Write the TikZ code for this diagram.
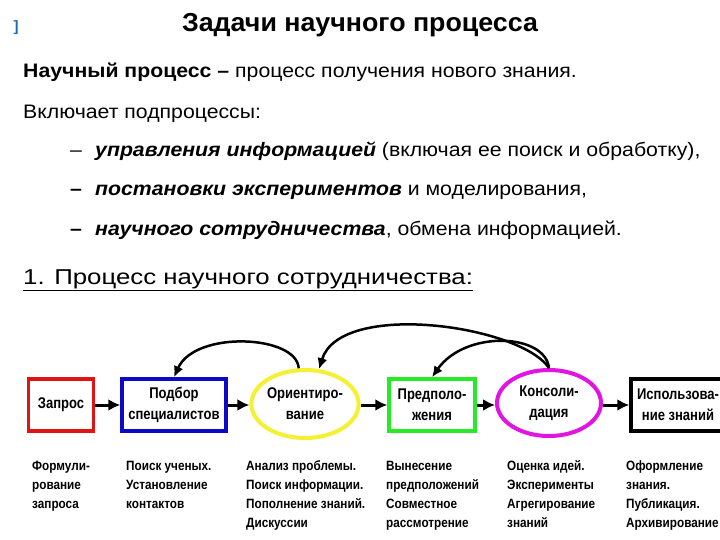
\documentclass[tikz,border=0pt]{standalone}
\usepackage{fontspec}
\setmainfont{Liberation Sans}
\newfontfamily\bodyf[FakeStretch=1.09]{Liberation Sans}
\newfontfamily\headf[FakeStretch=1.2]{Liberation Sans}
\newfontfamily\titlef[FakeStretch=1.03]{Liberation Sans Bold}
\newfontfamily\narrowb[FakeStretch=0.84]{Liberation Sans Bold}
\newfontfamily\listb[FakeStretch=0.87]{Liberation Sans Bold}
\usetikzlibrary{arrows.meta,shapes.geometric}
\definecolor{cred}{RGB}{225,20,20}
\definecolor{cblue}{RGB}{10,10,200}
\definecolor{cyel}{RGB}{245,240,50}
\definecolor{cgreen}{RGB}{40,235,40}
\definecolor{cmag}{RGB}{225,20,225}
\definecolor{cbrk}{RGB}{30,110,180}
\tikzset{
  txt/.style={inner sep=0pt, anchor=base west, font=\bodyf\fontsize{19.5}{22}\selectfont},
  boxlbl/.style={align=center, font=\narrowb\fontsize{15.5}{21}\selectfont},
  rbox/.style={draw, rectangle, line width=3.5pt, minimum height=52pt, inner sep=0pt, boxlbl},
  ebox/.style={draw, ellipse, line width=4pt, inner sep=0pt, boxlbl},
  lst/.style={align=left, inner sep=0pt, anchor=base west, font=\listb\fontsize{13.5}{19}\selectfont},
  arr/.style={line width=3pt, -{Latex[length=12pt,width=12pt]}},
  carr/.style={line width=2.5pt, -{Latex[length=11pt,width=10pt]}},
}
\begin{document}
\begin{tikzpicture}[x=1pt,y=-1pt]
\useasboundingbox[fill=white] (0,0) rectangle (720,540);
\node[inner sep=0pt, anchor=base, font=\titlef\fontsize{26}{30}\selectfont] (title) at (360,32) {Задачи научного процесса};
\node[inner sep=0pt, anchor=base, text=cbrk, font=\bfseries\fontsize{15}{16}\selectfont] (brk) at (16,32) {]};
\node[txt] (l1) at (23,78) {\textbf{Научный процесс –} процесс получения нового знания.};
\node[txt] (l2) at (23,119) {Включает подпроцессы:};
\node[txt] (d1) at (70,157) {–};
\node[txt] (b1) at (95,157) {\textbf{\textit{управления информацией}} (включая ее поиск и обработку),};
\node[txt] (d2) at (70,196) {\textbf{–}};
\node[txt] (b2) at (95,196) {\textbf{\textit{постановки экспериментов}} и моделирования,};
\node[txt] (d3) at (70,236) {\textbf{–}};
\node[txt] (b3) at (95,236) {\textbf{\textit{научного сотрудничества}}, обмена информацией.};
\node[txt, font=\headf\fontsize{21.5}{24}\selectfont] (h) at (23,284) {\underline{1. Процесс научного сотрудничества:}};

\node[rbox, draw=cred, minimum width=65pt] (zap) at (61,405) {Запрос};
\node[rbox, draw=cblue, minimum width=104pt] (pod) at (174,405) {Подбор\\специалистов};
\node[ebox, draw=cyel, minimum width=100pt, minimum height=68pt] (ori) at (305,404) {Ориентиро-\\вание};
\node[rbox, draw=cgreen, minimum width=86pt] (pred) at (432,405) {Предполо-\\жения};
\node[ebox, draw=cmag, minimum width=104pt, minimum height=66pt] (kon) at (549,403) {Консоли-\\дация};
\node[rbox, draw=black, minimum width=94pt] (isp) at (678,405) {Использова-\\ние знаний};

\draw[arr] (zap.east) -- (pod.west);
\draw[arr] (pod.east) -- (ori.west |- pod.east);
\draw[arr] (ori.east |- pred.west) -- (pred.west);
\draw[arr] (pred.east) -- (kon.west |- pred.east);
\draw[arr] (kon.east |- isp.west) -- (isp.west);

\draw[carr] (ori.100) .. controls (297,335) and (195,330) .. (pod.north);
\draw[carr] (kon.north) .. controls (520,325) and (340,300) .. (ori.68);
\draw[carr] (kon.north) .. controls (545,333) and (465,330) .. (pred.north);

\node[lst] (t1) at (32,508) {Формули-\\рование\\запроса};
\node[lst] (t2) at (126,508) {Поиск ученых.\\Установление\\контактов};
\node[lst] (t3) at (246,527) {Анализ проблемы.\\Поиск информации.\\Пополнение знаний.\\Дискуссии};
\node[lst] (t4) at (386,527) {Вынесение\\предположений\\Совместное\\рассмотрение};
\node[lst] (t5) at (507,527) {Оценка идей.\\Эксперименты\\Агрегирование\\знаний};
\node[lst] (t6) at (626,527) {Оформление\\знания.\\Публикация.\\Архивирование};
\end{tikzpicture}
\end{document}
